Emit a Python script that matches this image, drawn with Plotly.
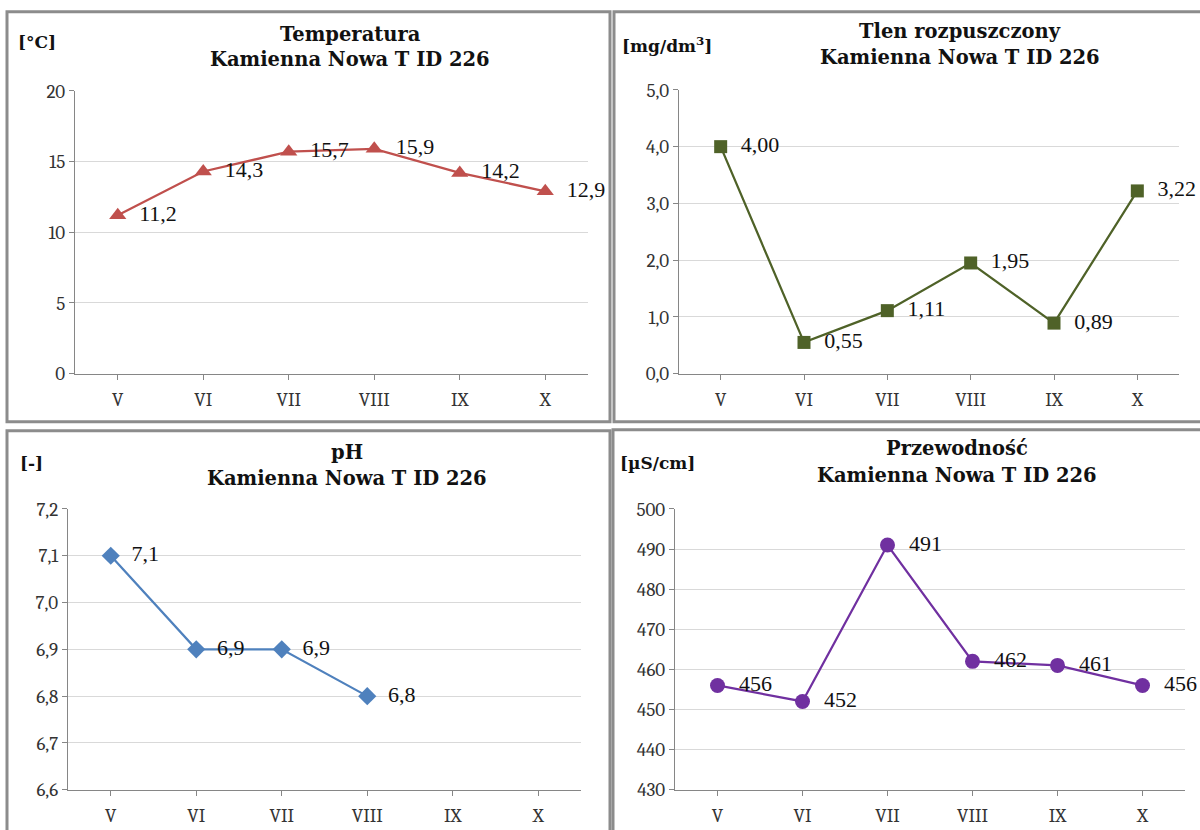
import plotly.graph_objects as go

# ---- data ----
months = ["V", "VI", "VII", "VIII", "IX", "X"]
temperature = [11.2, 14.3, 15.7, 15.9, 14.2, 12.9]
oxygen = [4.00, 0.55, 1.11, 1.95, 0.89, 3.22]
ph = [7.1, 6.9, 6.9, 6.8, None, None]
conductivity = [456, 452, 491, 462, 461, 456]

titles = ["Temperatura", "Tlen rozpuszczony", "pH", "Przewodność"]
subtitle = "Kamienna Nowa T ID 226"
units = ["[°C]", "[mg/dm<sup>3</sup>]", "[-]", "[µS/cm]"]


def fmt(v, dec):
    return "\u2002" + f"{v:.{dec}f}".replace(".", ",")


W, H = 1200, 830
def px(x):
    return x / W
def Y(y):
    # vertical pixel position compensation
    return (y - 10.3) / 0.971
def py(y):
    return 1 - Y(y) / H

SERIF = "Palatino Linotype, Book Antiqua, DejaVu Serif, serif"
TICKFONT = dict(family="Cambria, Liberation Serif, serif", size=19, color="#333333")
LABELFONT = dict(family="Palatino Linotype, Book Antiqua, Liberation Serif, serif", size=22, color="#111111")

panels = [
    dict(y=temperature, dec=1, color="#C0504D", symbol="triangle-up", msize=15,
         xdom=(75, 588), ydom=(91, 373), rng=[0, 20], dtick=5, tfmt="d"),
    dict(y=oxygen, dec=2, color="#4F6228", symbol="square", msize=13,
         xdom=(679, 1179), ydom=(90, 373), rng=[0, 5], dtick=1, tfmt=".1f"),
    dict(y=ph, dec=1, color="#4F81BD", symbol="diamond", msize=14,
         xdom=(68, 581), ydom=(508, 788), rng=[6.6, 7.2], dtick=0.1, tfmt=".1f"),
    dict(y=conductivity, dec=0, color="#7030A0", symbol="circle", msize=15,
         xdom=(675, 1185), ydom=(508, 788), rng=[430, 500], dtick=10, tfmt="d"),
]

fig = go.Figure()
layout = dict(
    width=W, height=H, margin=dict(l=0, r=0, t=0, b=0),
    paper_bgcolor="white", plot_bgcolor="white", showlegend=False,
    separators=", ",
)

for i, p in enumerate(panels):
    n = "" if i == 0 else str(i + 1)
    xs = [m for m, v in zip(months, p["y"]) if v is not None]
    ys = [v for v in p["y"] if v is not None]
    fig.add_trace(go.Scatter(
        x=xs, y=ys, mode="lines+markers+text",
        text=[fmt(v, p["dec"]) for v in ys], textposition="middle right",
        textfont=LABELFONT,
        line=dict(color=p["color"], width=2.25),
        marker=dict(symbol=p["symbol"], size=p["msize"], color=p["color"]),
        xaxis="x" + n, yaxis="y" + n, cliponaxis=False,
        hoverinfo="skip",
    ))
    layout["xaxis" + n] = dict(
        domain=[px(p["xdom"][0]), px(p["xdom"][1])],
        anchor="y" + n, type="category", categoryorder="array",
        categoryarray=months, range=[-0.5, 5.5],
        showline=True, linecolor="#868686", linewidth=1,
        ticks="outside", ticklen=5, tickcolor="#868686",
        ticklabelstandoff=4,
        showgrid=False, tickfont=TICKFONT, zeroline=False,
        fixedrange=True,
    )
    layout["yaxis" + n] = dict(
        domain=[py(p["ydom"][1]), py(p["ydom"][0])],
        anchor="x" + n, range=p["rng"], dtick=p["dtick"], tick0=p["rng"][0],
        tickformat=p["tfmt"],
        showline=True, linecolor="#868686", linewidth=1,
        ticks="outside", ticklen=5, tickcolor="#868686",
        showgrid=True, gridcolor="#d9d9d9", gridwidth=1,
        tickfont=TICKFONT, zeroline=False, fixedrange=True,
    )

# panel borders
borders = [(7, 12, 610, 421), (614, 12, 1215, 421), (7, 430, 610, 860), (613, 429, 1215, 860)]
shapes = []
for (x0, y0, x1, y1) in borders:
    shapes.append(dict(type="rect", xref="paper", yref="paper",
                       x0=px(x0), x1=px(x1), y0=py(y1), y1=py(y0),
                       line=dict(color="#8c8c8c", width=3), layer="above"))
layout["shapes"] = shapes

# titles and units
title_pos = [(350, 35, 60), (960, 32, 58), (347, 452, 478), (957, 448, 475)]
unit_pos = [(16, 42), (620, 45), (18, 462), (618, 462)]
ann = []
for i in range(4):
    cx, y1, y2 = title_pos[i]
    ann.append(dict(text="<b>" + titles[i] + "</b>", x=px(cx), y=py(y1),
                    xref="paper", yref="paper", showarrow=False,
                    xanchor="center", yanchor="middle",
                    font=dict(family=SERIF, size=19.5, color="#111111")))
    ann.append(dict(text="<b>" + subtitle + "</b>", x=px(cx), y=py(y2),
                    xref="paper", yref="paper", showarrow=False,
                    xanchor="center", yanchor="middle",
                    font=dict(family=SERIF, size=19.5, color="#111111")))
    ux, uy = unit_pos[i]
    ann.append(dict(text="<b>" + units[i] + "</b>", x=px(ux), y=py(uy),
                    xref="paper", yref="paper", showarrow=False,
                    xanchor="left", yanchor="middle",
                    font=dict(family=SERIF, size=17, color="#111111")))
layout["annotations"] = ann

fig.update_layout(**layout)
fig.write_html("out.html", config={"displayModeBar": False},
               post_script="document.body.style.margin='0';document.body.style.overflow='hidden';")
